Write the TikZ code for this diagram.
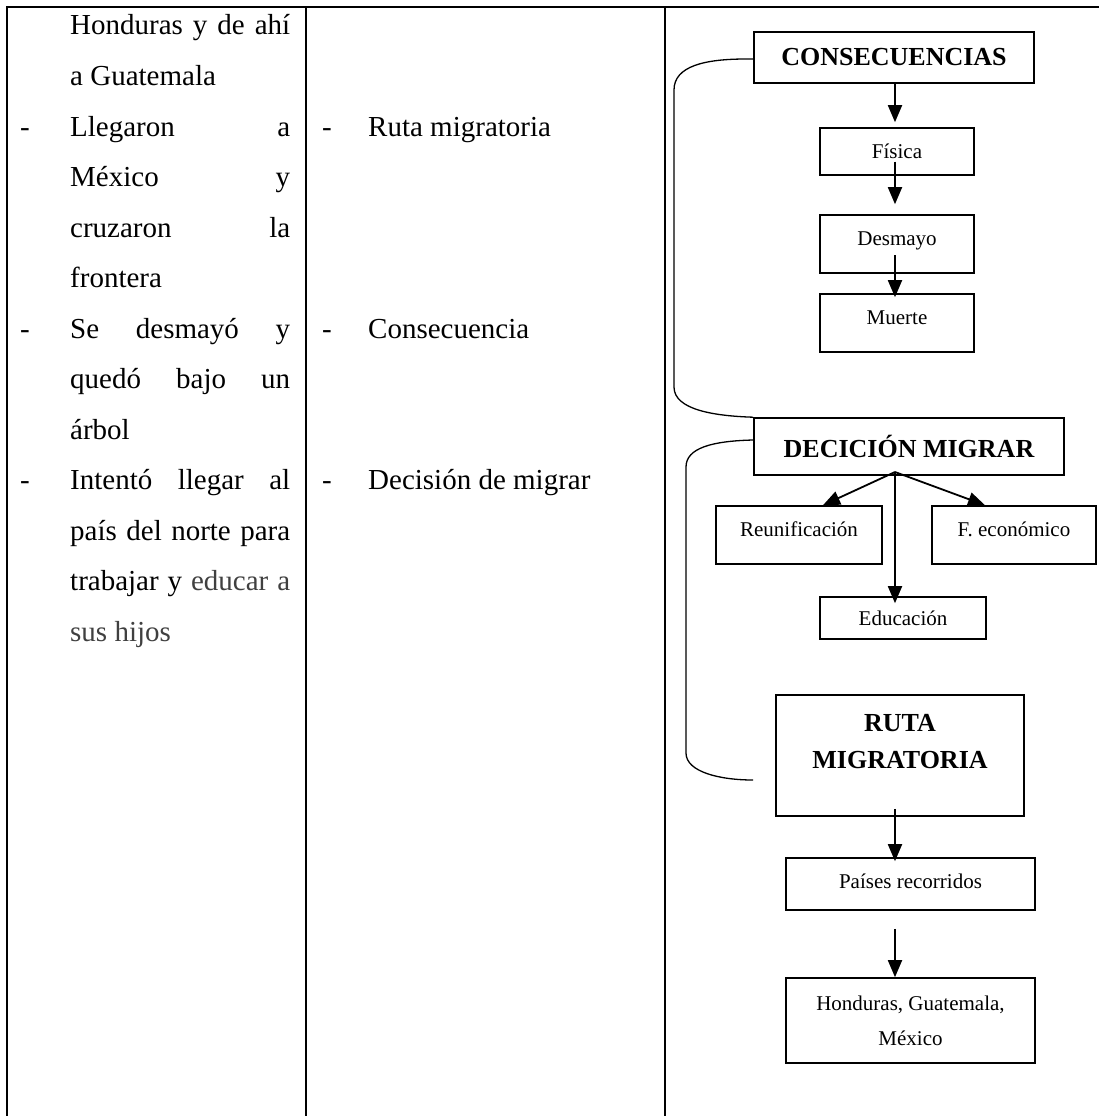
\documentclass[tikz,border=0pt]{standalone}
\usepackage{fontspec}
\setmainfont{Liberation Serif}
\usetikzlibrary{positioning,calc,arrows.meta}
\definecolor{fade}{RGB}{64,64,64}
\newcommand{\jline}[1]{\makebox[220pt][s]{#1}}
\begin{document}
\begin{tikzpicture}[x=1pt, y=-1pt,
		rule/.style={line width=2.6pt},
		txt/.style={inner sep=0pt, anchor=base west, font=\fontsize{29}{35}\selectfont},
		box/.style={draw, line width=1.6pt, inner sep=2pt, align=center, font=\fontsize{21}{35}\selectfont},
		high/.style={text height=15pt, text depth=13pt},
		head/.style={box, font=\bfseries\fontsize{26}{37}\selectfont},
		arr/.style={line width=1.8pt, -{Triangle[length=17pt, width=14pt]}},
		brk/.style={line width=1.3pt}]
		\useasboundingbox (0,0) rectangle (1099,1116);
		% table
		\draw[rule] (7,1116) -- (7,7) -- (1099,7);
		\draw[rule] (306,7) -- (306,1116);
		\draw[rule] (665,7) -- (665,1116);
		% first column
		\node[txt] (l1) at (70,35) {\jline{Honduras y de ahí}};
		\node[txt] (l2) at (70,85.5) {a Guatemala};
		\node[txt] (l3) at (70,136) {\jline{Llegaron a}};
		\node[txt] (l4) at (70,186.5) {\jline{México y}};
		\node[txt] (l5) at (70,237) {\jline{cruzaron la}};
		\node[txt] (l6) at (70,287.5) {frontera};
		\node[txt] (l7) at (70,338) {\jline{Se desmayó y}};
		\node[txt] (l8) at (70,388.5) {\jline{quedó bajo un}};
		\node[txt] (l9) at (70,439) {árbol};
		\node[txt] (l10) at (70,489.5) {\jline{Intentó llegar al}};
		\node[txt] (l11) at (70,540) {\jline{país del norte para}};
		\node[txt] (l12) at (70,590.5) {\jline{trabajar y \textcolor{fade}{educar a}}};
		\node[txt, text=fade] (l13) at (70,641) {sus hijos};
		\node[txt] (d1) at (20,136) {-};
		\node[txt] (d2) at (20,338) {-};
		\node[txt] (d3) at (20,489.5) {-};
		% second column
		\node[txt] (e1) at (322,136) {-};
		\node[txt] (e2) at (322,338) {-};
		\node[txt] (e3) at (322,489.5) {-};
		\node[txt] (c1) at (368,136) {Ruta migratoria};
		\node[txt] (c2) at (368,338) {Consecuencia};
		\node[txt] (c3) at (368,489.5) {Decisión de migrar};
		% diagram
		\node[head, minimum width=280pt, minimum height=51pt] (cons) at (894,57.5) {CONSECUENCIAS};
		\node[box, minimum width=154pt, minimum height=47pt] (fisica) at (897,151.5) {Física};
		\node[box, high, minimum width=154pt, minimum height=58pt] (desmayo) at (897,244) {Desmayo};
		\node[box, high, minimum width=154pt, minimum height=58pt] (muerte) at (897,323) {Muerte};
		\node[head, minimum width=310pt, minimum height=57pt] (decision) at (909,446.5) {DECICIÓN MIGRAR};
		\node[box, high, minimum width=166pt, minimum height=58pt] (reuni) at (799,535) {Reunificación};
		\node[box, high, minimum width=164pt, minimum height=58pt] (fecon) at (1014,535) {F. económico};
		\node[box, minimum width=166pt, minimum height=42pt] (educ) at (903,618) {Educación};
		\node[head, text depth=28pt, minimum width=248pt, minimum height=121pt] (ruta) at (900,755.5) {RUTA\\MIGRATORIA};
		\node[box, text height=15pt, text depth=7pt, minimum width=249pt, minimum height=52pt] (paises) at (910.5,884) {Países recorridos};
		\node[box, minimum width=249pt, minimum height=85pt] (hondu) at (910.5,1020.5) {Honduras, Guatemala,\\México};
		\coordinate (hub) at (895,472);
		\coordinate (rutaend) at (753,780);
		% arrows
		\draw[arr] (cons.south -| hub) -- ($(fisica.north -| hub)+(0,-5)$);
		\draw[arr] ($(fisica.center -| hub)+(0,10)$) -- ($(desmayo.north -| hub)+(0,-10)$);
		\draw[arr] ($(desmayo.center -| hub)+(0,11)$) -- ($(muerte.north -| hub)+(0,4)$);
		\draw[arr] (hub) -- ($(reuni.north)+(24,0)$);
		\draw[arr] (hub) -- ($(fecon.north)+(-29,0)$);
		\draw[arr] (hub) -- ($(educ.north -| hub)+(0,7)$);
		\draw[arr] ($(ruta.south -| hub)+(0,-8)$) -- ($(paises.north -| hub)+(0,4)$);
		\draw[arr] ($(paises.south -| hub)+(0,18)$) -- (hondu.north -| hub);
		% brackets
		\draw[brk] ($(cons.west)+(0,1.5)$) -- ++(-7,0) .. controls (705,59) and (674,66) .. (674,90) -- (674,387) .. controls (674,410) and (715,416) .. (decision.north west);
		\draw[brk] ($(decision.west)+(0,-6.5)$) .. controls (712,441) and (686,448) .. (686,467) -- (686,753) .. controls (686,772) and (720,780) .. (rutaend);
\end{tikzpicture}
\end{document}
